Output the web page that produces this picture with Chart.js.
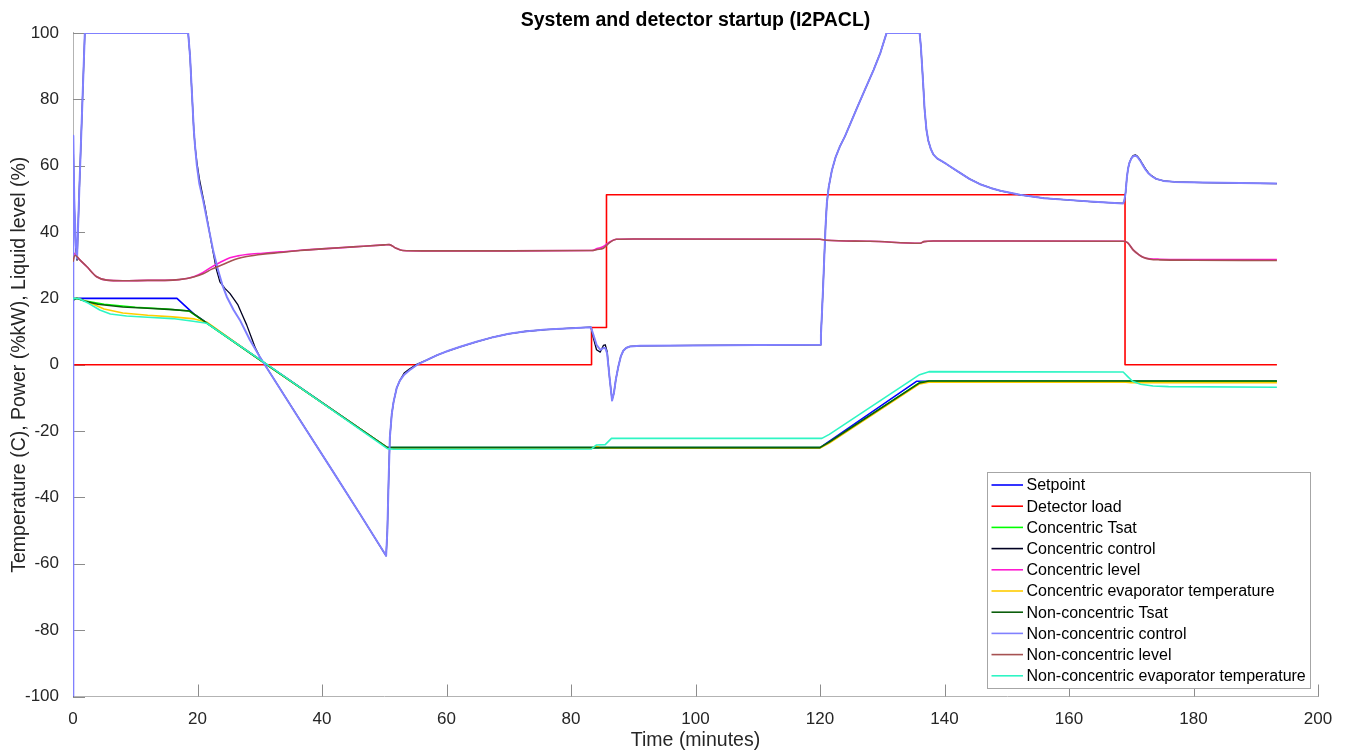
<!DOCTYPE html>
<html>
<head>
<meta charset="utf-8">
<script src="https://cdn.jsdelivr.net/npm/chart.js@4/dist/chart.umd.min.js"></script>
<style>
  html, body { margin: 0; padding: 0; background: #fff; }
  canvas { display: block; }
</style>
</head>
<body>
<canvas id="chart-startup" width="1349" height="756"></canvas>
<script>
// time axis ticks (minutes) and value axis ticks
const xTicks = [0, 20, 40, 60, 80, 100, 120, 140, 160, 180, 200];
const yTicks = [-100, -80, -60, -40, -20, 0, 20, 40, 60, 80, 100];

// Setpoint
const setpointT = [0, 16.7, 19.4, 50.5, 120, 135.5, 193.4];
const setpointV = [20, 20, 15.3, -25, -25, -5, -5];

// Detector load
const loadT = [0, 83.3, 83.3, 85.7, 85.7, 169.0, 169.0, 193.4];
const loadV = [0, 0, 11.2, 11.2, 51.2, 51.2, 0, 0];

// Concentric Tsat
const cTsatT = [0, 0.5, 2, 5, 10, 15, 18.6, 31.1, 50.5, 120, 121.5, 136, 137.5, 193.4];
const cTsatV = [19.5, 20, 19.2, 18.2, 17.3, 16.8, 16.2, 0, -25, -25, -23.4, -5.4, -5, -5];

// Concentric control
const cCtrlT = [0, 0.05, 0.2, 0.45, 0.65, 1.0, 1.9, 18.5, 18.8, 19.1, 19.4, 19.6, 19.9, 20.3, 21.2, 22.3, 23.0, 23.6,
  24.4, 25.2, 26.5, 27.2, 27.9, 28.6, 29.3, 30.0, 36.5, 41.8, 46.1, 50.3, 50.5, 50.7, 50.9, 51.2, 51.5, 52.0,
  52.5, 53.2, 54.1, 55.3, 56.8, 58.5, 60.3, 62.2, 64.8, 67.5, 70, 72.5, 76, 80, 83.2,
  83.6, 84.1, 84.7, 85.2, 85.5, 85.8, 86.2, 86.6, 86.9, 87.2, 87.6, 88.0, 88.4, 88.9, 89.5, 91.1, 100, 110, 120.0,
  120.15, 120.3, 120.5, 120.7, 120.9, 121.1, 121.4, 121.9, 122.5, 123.2, 124, 125, 125.9, 127.2, 128.6, 129.7, 130.7,
  136.0, 136.2, 136.4, 136.6, 136.8, 137.1, 137.4, 137.8, 138.2, 138.8, 139.5, 140.3, 141.5, 142.5, 144, 145.7,
  147.5, 149, 152.1, 156, 160.2, 164, 168.7, 168.9, 169.1, 169.3, 169.5, 169.7, 170.0, 170.3, 170.7, 171.0,
  171.4, 171.8, 172.3, 172.8, 173.3, 174, 175.2, 177, 181.6, 193.4];
const cCtrlV = [-100, 65, 48, 35, 31.5, 52, 100, 100, 93, 82, 71, 66, 61, 56, 47.6, 36, 29, 25,
  23, 21.5, 18, 15, 12, 8.5, 5, 2.4, -16.8, -32.3, -45, -57.6, -50, -35, -22, -15, -11.2, -7,
  -4.8, -2.5, -1.2, 0.2, 1.4, 2.9, 4.2, 5.4, 6.9, 8.3, 9.3, 10, 10.6, 11.0, 11.3,
  8, 4.5, 3.8, 5.8, 6, 4, -4, -10.6, -8.5, -4.5, -0.6, 2.5, 4.2, 5.1, 5.5, 5.7, 5.8, 5.9, 6.0,
  9, 15, 23.5, 33, 42, 48.7, 53.5, 58.5, 62.5, 65.8, 68.8, 73.2, 77.2, 82.8, 88.8, 94, 100,
  100, 96, 90, 83.8, 77, 70.8, 67.5, 65, 63.4, 62.2, 61.4, 60.5, 59, 57.8, 56, 54.4,
  53.2, 52.4, 51.2, 50.2, 49.6, 49.1, 48.6, 49.5, 52, 56.5, 59.2, 60.8, 62.2, 63.0, 63.2, 62.8,
  61.8, 60.5, 59, 57.7, 56.9, 56, 55.4, 55.1, 54.9, 54.6];

// Concentric level
const cLevelT = [0, 0.4, 1.1, 2.2, 3.8, 5.4, 8, 12, 16, 18.3, 19.5, 20.9, 22.3, 23.6, 25.2, 26.5, 27.9, 30.5, 33.3,
  36.5, 40, 45, 50, 50.8, 51.8, 53, 56, 70, 83.3, 84.2, 85.2, 86.2, 87.3, 90, 120, 121, 128, 136.1, 136.7, 138.2,
  150, 168.7, 169.4, 170.3, 171.2, 171.9, 173, 174.6, 180, 193.4];
const cLevelV = [33.8, 33.2, 31.6, 29.6, 26.5, 25.5, 25.3, 25.4, 25.5, 26, 26.6, 27.8, 29.5, 30.8, 32.2, 32.8, 33.2, 33.6, 34,
  34.5, 34.9, 35.5, 36.1, 36.2, 35.2, 34.4, 34.3, 34.3, 34.4, 35.0, 35.6, 37.0, 37.8, 37.9, 37.8, 37.5, 37.2, 36.6, 37.1, 37.3,
  37.3, 37.2, 36.8, 34.6, 33.2, 32.4, 31.9, 31.8, 31.7, 31.7];

// Concentric evaporator temperature
const cEvapT = [0, 1, 2.5, 5, 8, 12, 16, 19.5, 21.5, 31.1, 50.5, 52, 83.3, 84, 84.8, 120, 121.5, 136, 137.5, 168.7, 170, 193.4];
const cEvapV = [20, 19.9, 18.8, 16.8, 15.6, 14.9, 14.4, 13.8, 12.8, 0, -25, -25.2, -25.2, -24.5, -25.1, -25.1, -23.6, -5.8, -5.3, -5.2, -5.4, -5.4];

// Non-concentric Tsat
const nTsatT = [0, 0.6, 2, 4, 8, 12, 16, 18.7, 31.1, 50.5, 120, 121.5, 136, 137.5, 193.4];
const nTsatV = [19.4, 20, 19.1, 18.2, 17.4, 17, 16.6, 16.2, 0, -25, -25, -23.3, -5.5, -4.9, -4.9];

// Non-concentric control
const nCtrlT = [0, 0.05, 0.2, 0.45, 0.65, 1.0, 1.9, 18.5, 18.8, 19.1, 19.4, 19.6, 19.9, 20.3, 20.9, 21.7, 22.5, 23.3,
  24.0, 24.7, 25.8, 26.8, 28.4, 30.0, 36.5, 41.8, 46.1, 50.3, 50.5, 50.7, 50.9, 51.2, 51.5, 52.0,
  52.5, 53.2, 54.1, 55.3, 56.8, 58.5, 60.3, 62.2, 64.8, 67.5, 70, 72.5, 76, 80, 83.2,
  83.6, 84.1, 84.7, 85.2, 85.5, 85.8, 86.2, 86.6, 86.9, 87.2, 87.6, 88.0, 88.4, 88.9, 89.5, 91.1, 100, 110, 120.0,
  120.15, 120.3, 120.5, 120.7, 120.9, 121.1, 121.4, 121.9, 122.5, 123.2, 124, 125, 125.9, 127.2, 128.6, 129.7, 130.7,
  136.0, 136.2, 136.4, 136.6, 136.8, 137.1, 137.4, 137.8, 138.2, 138.8, 139.5, 140.3, 141.5, 142.5, 144, 145.7,
  147.5, 149, 152.1, 156, 160.2, 164, 168.7, 168.9, 169.1, 169.3, 169.5, 169.7, 170.0, 170.3, 170.7, 171.0,
  171.4, 171.8, 172.3, 172.8, 173.3, 174, 175.2, 177, 181.6, 193.4];
const nCtrlV = [-100, 69, 50, 36, 32, 52, 100, 100, 93, 82, 71, 66, 60, 54.5, 49.6, 42, 34.6, 28.5,
  24, 20.5, 16.5, 13.5, 7.5, 2.4, -16.8, -32.3, -45, -57.6, -50, -35, -22, -15, -11.2, -7,
  -4.8, -3, -1.6, 0, 1.4, 2.9, 4.2, 5.4, 6.9, 8.3, 9.3, 10, 10.6, 11.0, 11.3,
  9, 6, 4.5, 5, 5, 3.5, -4, -10.8, -8.5, -4.5, -0.6, 2.5, 4.2, 5.1, 5.5, 5.7, 5.8, 5.9, 6.0,
  9, 15, 23.5, 33, 42, 48.7, 53.5, 58.5, 62.5, 65.8, 68.8, 73.2, 77.2, 82.8, 88.8, 94, 100,
  100, 96, 90, 83.8, 77, 70.8, 67.5, 65, 63.4, 62.2, 61.4, 60.5, 59, 57.8, 56, 54.4,
  53.2, 52.4, 51.2, 50.2, 49.6, 49.1, 48.6, 49.5, 52, 56.5, 59.2, 60.8, 62.1, 62.8, 63.0, 62.6,
  61.6, 60.3, 58.8, 57.6, 56.8, 56, 55.4, 55.1, 54.9, 54.6];

// Non-concentric level
const nLevelT = [0, 0.3, 1.1, 2.2, 3.8, 5.4, 8, 12, 16, 18.3, 19.5, 20.9, 22.3, 23.6, 25.2, 26.5, 27.9, 30.5, 33.3,
  36.5, 40, 45, 50, 50.8, 51.8, 53, 56, 70, 83.3, 84.2, 85.2, 86.2, 87.3, 90, 120, 121, 128, 136.1, 136.7, 138.2,
  150, 168.7, 169.4, 170.3, 171.2, 171.9, 173, 174.6, 180, 193.4];
const nLevelV = [31, 33, 31.6, 29.6, 26.5, 25.5, 25.3, 25.4, 25.5, 26, 26.5, 27.4, 28.8, 29.8, 31.1, 32.0, 32.6, 33.3, 33.8,
  34.4, 34.9, 35.5, 36.1, 36.2, 35.2, 34.4, 34.3, 34.3, 34.4, 34.7, 35.1, 36.8, 37.8, 37.9, 37.8, 37.5, 37.2, 36.6, 37.1, 37.3,
  37.3, 37.2, 36.8, 34.6, 33.2, 32.4, 31.8, 31.6, 31.5, 31.4];

// Non-concentric evaporator temperature
const nEvapT = [0, 1, 2.5, 4.3, 6, 8.6, 12, 16, 19.3, 21.5, 31.1, 50.5, 51.5, 83.3, 84.1, 85.5, 86.5, 120.3, 121.5, 136, 137.5,
  168.7, 169.4, 170.2, 171.5, 173.5, 176, 193.4];
const nEvapV = [20, 19.9, 18.5, 16.5, 15.3, 14.7, 14.3, 13.9, 13.1, 12.5, 0.2, -25.3, -25.5, -25.4, -24.2, -24.1, -22.2, -22.2, -21, -3, -2.1,
  -2.2, -3.5, -5, -5.9, -6.4, -6.6, -6.8];

const seriesNames = ['Setpoint', 'Detector load', 'Concentric Tsat', 'Concentric control', 'Concentric level',
  'Concentric evaporator temperature', 'Non-concentric Tsat', 'Non-concentric control', 'Non-concentric level',
  'Non-concentric evaporator temperature'];
const seriesColors = ['#0000ff', '#ff0000', '#00ff00', '#000022', '#ff1ad1', '#ffcc00', '#0b5e0b', '#8080ff', '#a65252', '#2ef5c4'];
const seriesData = [
  [setpointT, setpointV], [loadT, loadV], [cTsatT, cTsatV], [cCtrlT, cCtrlV], [cLevelT, cLevelV],
  [cEvapT, cEvapV], [nTsatT, nTsatV], [nCtrlT, nCtrlV], [nLevelT, nLevelV], [nEvapT, nEvapV]
];
// the slow level signals get a smooth curve, everything else is joined point to point
const smoothSeries = [false, false, false, false, true, false, false, false, true, false];
const lineWidths = [1.6, 1.6, 1.6, 1.3, 1.6, 1.6, 1.6, 2.0, 1.6, 1.6];

const FONT = "'Liberation Sans', Arial, Helvetica, sans-serif";

const toPoints = (t, v) => t.map((x, i) => ({ x: x, y: v[i] }));

// later series are drawn on top, so order = reverse of legend
const datasets = seriesNames.map((name, i) => ({
  label: name,
  data: toPoints(seriesData[i][0], seriesData[i][1]),
  borderColor: seriesColors[i],
  backgroundColor: seriesColors[i],
  borderWidth: lineWidths[i],
  borderJoinStyle: 'round',
  pointRadius: 0,
  tension: 0,
  cubicInterpolationMode: smoothSeries[i] ? 'monotone' : 'default',
  fill: false,
  order: seriesNames.length - i
}));

// ticks pointing into the plot
const inwardTicks = {
  id: 'inwardTicks',
  beforeDatasetsDraw(chart) {
    const { ctx, chartArea: a, scales: { x, y } } = chart;
    ctx.save();
    ctx.strokeStyle = '#8c8c8c';
    ctx.lineWidth = 1;
    ctx.beginPath();
    x.ticks.forEach(t => {
      const px = Math.round(x.getPixelForValue(t.value)) + 0.5;
      ctx.moveTo(px, a.bottom);
      ctx.lineTo(px, a.bottom - 12);
    });
    y.ticks.forEach(t => {
      const py = Math.round(y.getPixelForValue(t.value)) + 0.5;
      ctx.moveTo(a.left, py);
      ctx.lineTo(a.left + 12, py);
    });
    ctx.stroke();
    ctx.restore();
  }
};

// boxed legend in the lower right corner of the plot
const boxLegend = {
  id: 'boxLegend',
  afterDraw(chart) {
    const { ctx, chartArea: a } = chart;
    const rowH = 21.2;
    const w = 323, h = 216;
    const right = a.right - 8, bottom = a.bottom - 8.5;
    const left = right - w, top = bottom - h;
    ctx.save();
    ctx.fillStyle = '#fff';
    ctx.fillRect(left, top, w, h);
    ctx.strokeStyle = '#a6a6a6';
    ctx.lineWidth = 1;
    ctx.strokeRect(Math.round(left) + 0.5, Math.round(top) + 0.5, Math.round(w), Math.round(h));
    ctx.font = '16px ' + FONT;
    ctx.textBaseline = 'middle';
    ctx.textAlign = 'left';
    seriesNames.forEach((name, i) => {
      const cy = top + 13 + i * rowH;
      ctx.strokeStyle = seriesColors[i];
      ctx.lineWidth = 1.6;
      ctx.beginPath();
      ctx.moveTo(left + 4.5, cy);
      ctx.lineTo(left + 36, cy);
      ctx.stroke();
      ctx.fillStyle = '#000';
      ctx.fillText(name, left + 39.5, cy + 1);
    });
    ctx.restore();
  }
};

new Chart(document.getElementById('chart-startup'), {
  type: 'line',
  data: { datasets: datasets },
  options: {
    responsive: false,
    animation: false,
    events: [],
    layout: { padding: { left: 0, right: 31, top: 0, bottom: 0 } },
    scales: {
      x: {
        type: 'linear',
        min: 0,
        max: 200,
        afterBuildTicks: s => { s.ticks = xTicks.map(v => ({ value: v })); },
        afterFit: s => { s.height = 59.5; },
        grid: { display: false },
        border: { display: true, color: '#b3b3b3', width: 1 },
        ticks: { color: '#262626', padding: 5, maxRotation: 0, font: { family: FONT, size: 17 } },
        title: {
          display: true,
          text: 'Time (minutes)',
          color: '#262626',
          font: { family: FONT, size: 19.5 },
          padding: { top: 0, bottom: 4 }
        }
      },
      y: {
        type: 'linear',
        min: -100,
        max: 100,
        afterBuildTicks: s => { s.ticks = yTicks.map(v => ({ value: v })); },
        afterFit: s => { s.width = 73; },
        grid: { display: false },
        border: { display: true, color: '#b3b3b3', width: 1 },
        ticks: { color: '#262626', padding: 6, font: { family: FONT, size: 17 } },
        title: {
          display: true,
          text: 'Temperature (C), Power (%kW), Liquid level (%)',
          color: '#262626',
          font: { family: FONT, size: 19.5 },
          padding: { top: 8, bottom: 0 }
        }
      }
    },
    plugins: {
      legend: { display: false },
      tooltip: { enabled: false },
      title: {
        display: true,
        fullSize: false,
        text: 'System and detector startup (I2PACL)',
        color: '#000',
        font: { family: FONT, size: 19.5, weight: 'bold' },
        padding: { top: 9, bottom: 0.5 }
      }
    }
  },
  plugins: [inwardTicks, boxLegend]
});
</script>
</body>
</html>
